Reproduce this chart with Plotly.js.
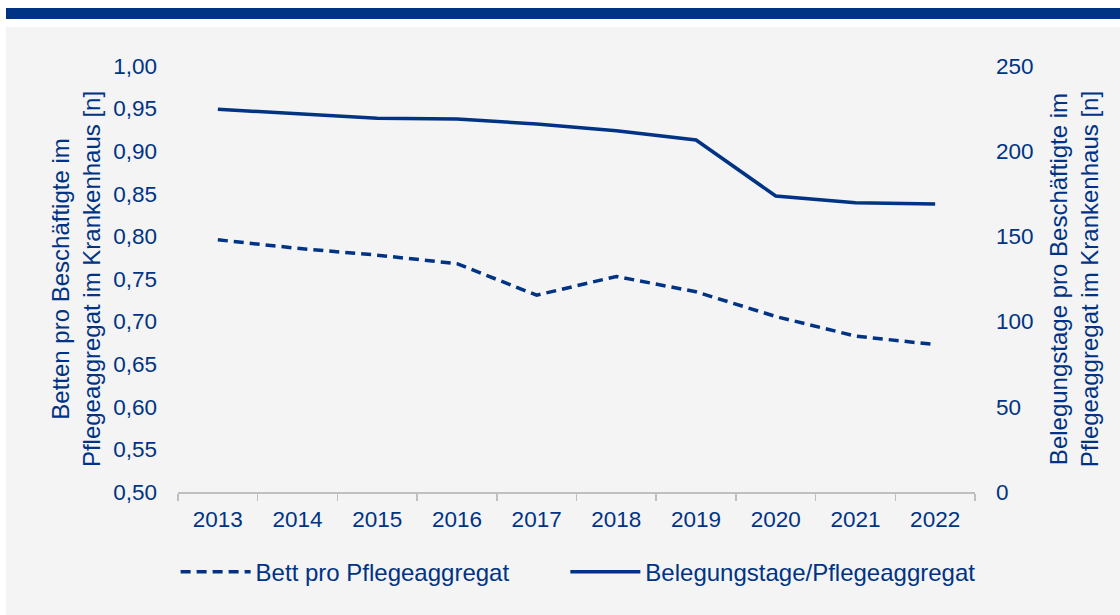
<!DOCTYPE html>
<html>
<head>
<meta charset="utf-8">
<script src="https://cdn.plot.ly/plotly-3.0.1.min.js"></script>
<style>
  html, body { margin: 0; padding: 0; background: #ffffff; width: 1120px; height: 615px; overflow: hidden; }
  #band { position: absolute; left: 6px; top: 8px; width: 1114px; height: 11px; background: #003383; }
  #chart { position: absolute; left: 6px; top: 27px; width: 1114px; height: 588px; }
</style>
</head>
<body>
<div id="band"></div>
<div id="chart"></div>
<script>
const years = ['2013','2014','2015','2016','2017','2018','2019','2020','2021','2022'];
const bettenProPflege = [0.796, 0.786, 0.778, 0.768, 0.731, 0.753, 0.735, 0.706, 0.683, 0.673];
const belegungstageProPflege = [224.6, 222.2, 219.3, 218.9, 216.0, 212.0, 206.6, 173.7, 169.8, 169.0];
const seriesNames = ['Bett pro Pflegeaggregat', 'Belegungstage/Pflegeaggregat'];
const leftTitle = 'Betten pro Beschäftigte im<br>Pflegeaggregat im Krankenhaus [n]';
const rightTitle = 'Belegungstage pro Beschäftigte im<br>Pflegeaggregat im Krankenhaus [n]';

const blue = '#003383';
const font = 'Liberation Sans, Arial, sans-serif';

const traces = [
  {
    x: years, y: bettenProPflege, name: seriesNames[0], type: 'scatter', mode: 'lines',
    line: { color: blue, width: 3.5, dash: '10px,6px' }, yaxis: 'y', legend: 'legend'
  },
  {
    x: years, y: belegungstageProPflege, name: seriesNames[1], type: 'scatter', mode: 'lines',
    line: { color: blue, width: 3.5 }, yaxis: 'y2', legend: 'legend2'
  }
];

const legendBase = {
  orientation: 'h', xanchor: 'left', y: -0.188, yanchor: 'middle',
  font: { family: font, size: 24, color: blue }, bgcolor: 'rgba(0,0,0,0)',
  itemwidth: 70
};

const layout = {
  width: 1114, height: 588,
  paper_bgcolor: '#f4f4f4', plot_bgcolor: '#f4f4f4',
  margin: { l: 172, r: 145, t: 39, b: 123 },
  font: { family: font, size: 22, color: blue },
  separators: ',.',
  showlegend: true,
  legend: Object.assign({}, legendBase, { x: -0.003 }),
  legend2: Object.assign({}, legendBase, { x: 0.486 }),
  xaxis: {
    type: 'category', range: [-0.5, 9.5], tickson: 'boundaries',
    ticks: 'outside', ticklen: 7, tickcolor: '#bfbfbf', tickwidth: 1.5,
    showline: true, linecolor: '#bfbfbf', linewidth: 2,
    showgrid: false, zeroline: false, fixedrange: true,
    tickfont: { family: font, size: 22.5, color: blue }, ticklabelstandoff: 6
  },
  yaxis: {
    range: [0.5, 1.0], dtick: 0.05, tick0: 0.5, tickformat: '.2f',
    showgrid: false, zeroline: false, showline: false, ticks: '',
    tickfont: { family: font, size: 22.5, color: blue }, ticklabelstandoff: 20,
    title: { text: leftTitle, font: { family: font, size: 24, color: blue }, standoff: 5 },
    automargin: false
  },
  yaxis2: {
    overlaying: 'y', side: 'right', range: [0, 250], dtick: 50, tick0: 0,
    showgrid: false, zeroline: false, showline: false, ticks: '',
    tickfont: { family: font, size: 22.5, color: blue }, ticklabelstandoff: 20,
    title: { text: rightTitle, font: { family: font, size: 24, color: blue }, standoff: 17 },
    automargin: false
  }
};

Plotly.newPlot('chart', traces, layout, { displayModeBar: false, staticPlot: true });
</script>
</body>
</html>
